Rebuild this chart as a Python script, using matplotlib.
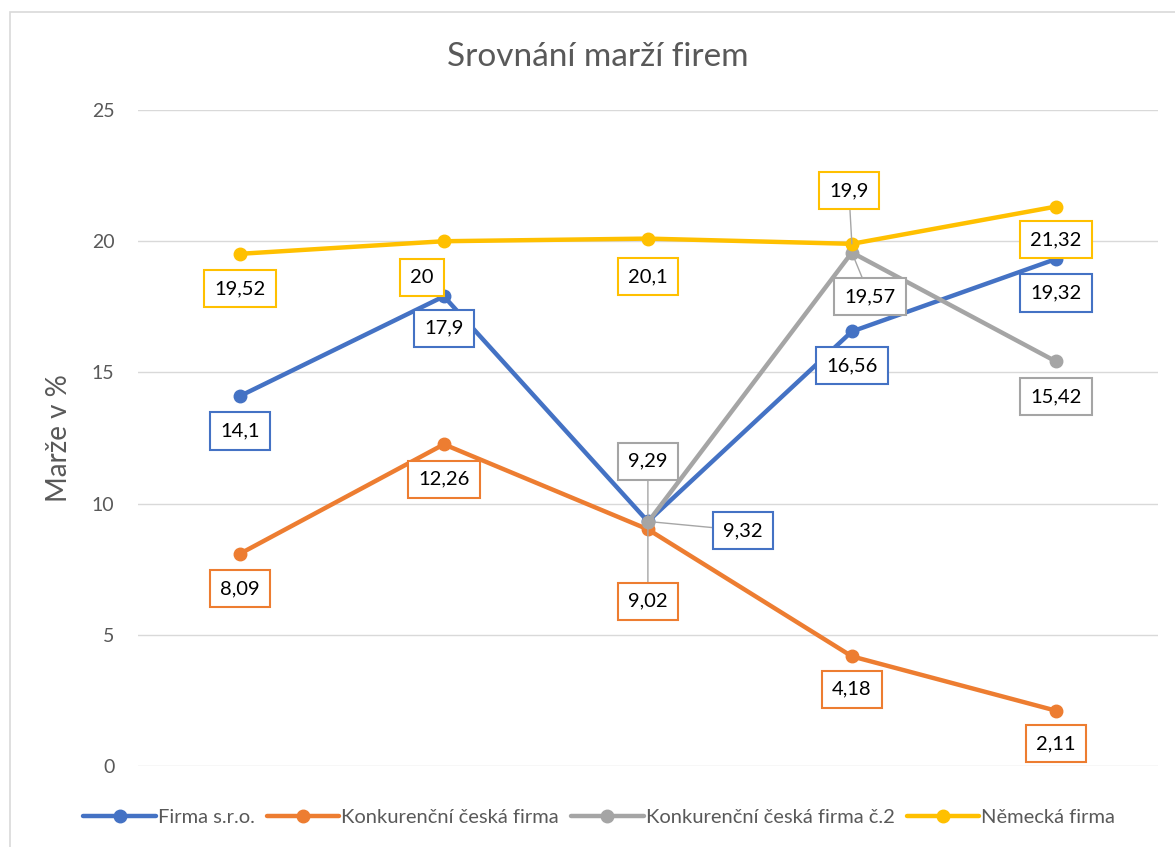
import matplotlib
matplotlib.use("Agg")
import matplotlib.pyplot as plt
from matplotlib.patches import Rectangle
import numpy as np

plt.rcParams['font.family'] = ['Lato', 'DejaVu Sans']

# data
categories = ["1", "2", "3", "4", "5"]
firma = [14.1, 17.9, 9.32, 16.56, 19.32]
konkurence = [8.09, 12.26, 9.02, 4.18, 2.11]
konkurence2 = [np.nan, np.nan, 9.29, 19.57, 15.42]
nemecka = [19.52, 20, 20.1, 19.9, 21.32]

names = ["Firma s.r.o.", "Konkurenční česká firma",
         "Konkurenční česká firma č.2", "Německá firma"]
colors = ["#4472C4", "#ED7D31", "#A5A5A5", "#FFC000"]

# label offsets in pixels (dx, dy) and whether a leader line is drawn
offsets = [
    [(0, -35), (0, -32), (95, -9), (0, -34), (0, -34)],
    [(0, -35), (0, -35), (0, -72), (0, -33), (0, -33)],
    [None, None, (0, 61), (18, -44), (0, -35)],
    [(0, -35), (-22, -36), (0, -38), (-3, 53), (0, -33)],
]
leaders = [
    [False, False, True, False, False],
    [False, False, True, False, False],
    [False, False, True, True, False],
    [False, False, False, True, False],
]

fig = plt.figure(figsize=(11.75, 8.47), dpi=100)
ax = fig.add_axes([0.1174, 0.0956, 0.868, 0.7745])

x = np.arange(len(categories))
series = [firma, konkurence, konkurence2, nemecka]

for i, (vals, name, col) in enumerate(zip(series, names, colors)):
    ax.plot(x, vals, color=col, lw=3.2, marker='o', markersize=9,
            label=name, solid_capstyle='round', zorder=3 + i)

for i, (vals, col) in enumerate(zip(series, colors)):
    for j, v in enumerate(vals):
        if np.isnan(v):
            continue
        dx, dy = offsets[i][j]
        txt = ("%g" % v).replace(".", ",")
        ap = None
        if leaders[i][j]:
            ap = dict(arrowstyle='-', color='#A6A6A6', lw=1,
                      shrinkA=0, shrinkB=0)
        ax.annotate(txt, (x[j], v), xytext=(dx, dy),
                    textcoords='offset pixels', ha='center', va='center',
                    fontsize=14.5, color='black', zorder=10,
                    bbox=dict(boxstyle='square,pad=0.5', fc='white',
                              ec=col, lw=1.5),
                    arrowprops=ap)

ax.set_xlim(-0.5, 4.5)
ax.set_ylim(0, 25)
ax.set_yticks([0, 5, 10, 15, 20, 25])
ax.set_xticks([])
ax.tick_params(axis='y', length=0, pad=17, labelsize=14, labelcolor='#595959')
ax.grid(axis='y', color='#D9D9D9', lw=1)
ax.set_axisbelow(True)
for s in ax.spines.values():
    s.set_visible(False)

ax.set_ylabel("Marže v %", fontsize=20, color='#595959', labelpad=14)
fig.text(0.509, 0.933, "Srovnání marží firem", ha='center', va='center',
         fontsize=24, color='#595959')

fig.legend(loc='center', bbox_to_anchor=(0.51, 0.035), ncol=4, frameon=False,
           fontsize=14.5, labelcolor='#595959', handlelength=3.6,
           handletextpad=0.1, columnspacing=0.6)

fig.patches.append(Rectangle((10 / 1175, -0.1), 1.2, 0.1 + 1 - 12 / 847,
                             transform=fig.transFigure, fill=False,
                             ec='#D9D9D9', lw=1.2))

fig.savefig("out.png", dpi=100)
